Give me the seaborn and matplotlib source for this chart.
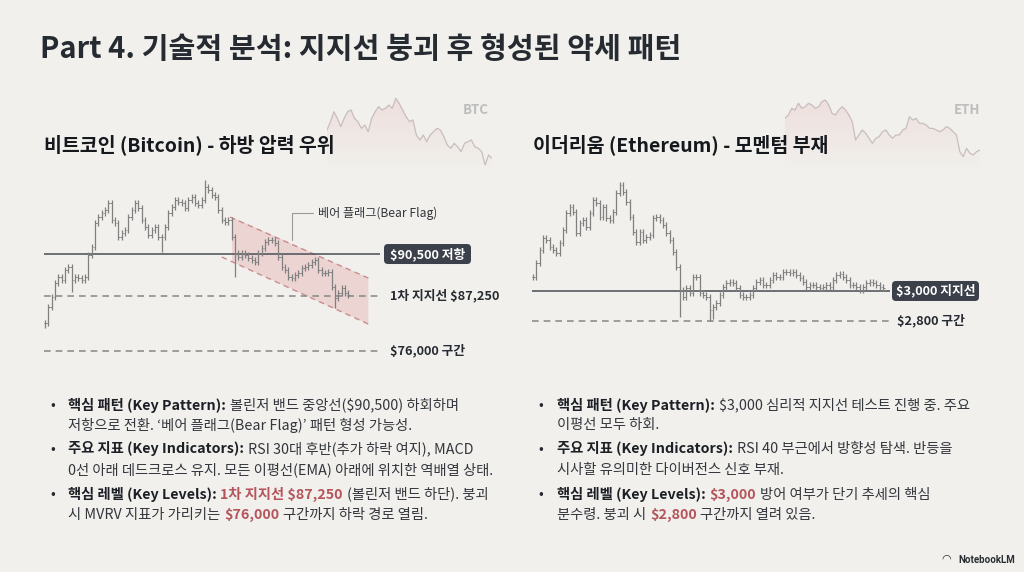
import numpy as np
import matplotlib
matplotlib.use("Agg")
import matplotlib.pyplot as plt
from matplotlib.patches import FancyBboxPatch, Polygon
import seaborn as sns

# ------------------------------------------------------------------ data
title = "Part 4. 기술적 분석: 지지선 붕괴 후 형성된 약세 패턴"
btc_title = "비트코인 (Bitcoin) - 하방 압력 우위"
eth_title = "이더리움 (Ethereum) - 모멘텀 부재"

btc_close = [
    85130, 86420, 87200, 88230, 88750, 88490, 89260, 89520, 88490, 88750,
    88620, 88490, 88750, 90420, 91070, 92870, 93390, 93650, 93910, 94420,
    93130, 92870, 91840, 92100, 92360, 93390, 93910, 94420, 94040, 93130,
    92620, 91970, 92360, 92620, 91840, 91840, 92620, 93650, 94160, 94680,
    94550, 94420, 94040, 94680, 94940, 94420, 94290, 94680, 95710, 95450,
    95070, 94940, 93910, 93130, 93000, 93130, 91840, 90550, 90290, 90550,
    90420, 90170, 90040, 89910, 90550, 90940, 91460, 91580, 91580, 91330,
    90290, 89520, 89260, 88750, 88620, 88880, 89000, 89390, 89520, 89650,
    89910, 90040, 89260, 89000, 89000, 89130, 87970, 87070, 87460, 87840,
    87460, 87330]
btc_wick_idx = [0, 8, 35, 48, 57, 87]
btc_wick_val = [84750, 87590, 90680, 96230, 88690, 86300]
btc_resistance = 90500
btc_support = 87250
btc_zone = 76000
btc_labels = ["$90,500 저항", "1차 지지선 $87,250", "$76,000 구간"]

flag_upper_x = [55.5, 97.0]
flag_upper = [93360, 88640]
flag_lower_x = [53.0, 97.0]
flag_lower = [90270, 85080]
flag_fill_x = [56.1, 97.0, 97.0, 56.1]
flag_fill_y = [93360, 88640, 85080, 89910]
flag_note = "베어 플래그(Bear Flag)"
flag_leader_x = [74.2, 74.2, 80.5]
flag_leader_y = [91580, 93670, 93670]

eth_close = [
    3096, 3184, 3273, 3351, 3340, 3296, 3273, 3251, 3318, 3407,
    3518, 3562, 3529, 3384, 3451, 3473, 3429, 3518, 3607, 3584,
    3496, 3562, 3484, 3473, 3529, 3651, 3707, 3662, 3596, 3496,
    3396, 3329, 3396, 3340, 3362, 3373, 3484, 3496, 3473, 3440,
    3384, 3340, 3262, 3162, 3007, 2962, 3018, 2984, 3096, 3096,
    2984, 2973, 2962, 2873, 2896, 2918, 2973, 3029, 3051, 3062,
    3051, 3018, 2973, 2962, 2962, 2973, 3018, 3062, 3073, 3040,
    3040, 3073, 3107, 3096, 3096, 3129, 3129, 3118, 3129, 3107,
    3084, 3062, 3029, 3040, 3040, 3029, 3018, 3029, 3040, 3029,
    3073, 3107, 3113, 3096, 3073, 3040, 3040, 3029, 3007, 3029,
    3051, 3062, 3051, 3040, 3029, 3018]
eth_wick_idx = [26, 44, 53, 54]
eth_wick_val = [3729, 2829, 2802, 2812]
eth_support = 3000
eth_zone = 2800
eth_labels = ["$3,000 지지선", "$2,800 구간"]

mini_btc = [115, 140, 170, 150, 125, 150, 170, 175, 150, 140, 120, 130, 110,
            150, 170, 185, 175, 180, 190, 180, 210, 195, 175, 155, 140, 145,
            100, 85, 100, 80, 100, 110, 120, 115, 95, 70, 60, 75, 65, 50, 75,
            80, 85, 65, 60, 50, 10, 40, 30]
mini_eth = [150, 160, 180, 175, 195, 180, 185, 195, 190, 180, 185, 200, 205,
            190, 165, 160, 175, 185, 175, 160, 140, 85, 100, 115, 105, 90, 75,
            90, 95, 110, 115, 100, 90, 100, 100, 115, 120, 155, 145, 150, 135,
            135, 130, 120, 120, 115, 110, 115, 125, 120, 110, 100, 50, 35, 60,
            45, 40, 50, 55]

btc_bullets = [
    [("핵심 패턴 (Key Pattern):", "b"), ("볼린저 밴드 중앙선($90,500) 하회하며", "n")],
    [("저항으로 전환. ‘베어 플래그(Bear Flag)’ 패턴 형성 가능성.", "n")],
    [("주요 지표 (Key Indicators):", "b"), ("RSI 30대 후반(추가 하락 여지), MACD", "n")],
    [("0선 아래 데드크로스 유지. 모든 이평선(EMA) 아래에 위치한 역배열 상태.", "n")],
    [("핵심 레벨 (Key Levels):", "b"), ("1차 지지선 $87,250", "r"), ("(볼린저 밴드 하단). 붕괴", "n")],
    [("시 MVRV 지표가 가리키는", "n"), ("$76,000", "r"), ("구간까지 하락 경로 열림.", "n")],
]
eth_bullets = [
    [("핵심 패턴 (Key Pattern):", "b"), ("$3,000 심리적 지지선 테스트 진행 중. 주요", "n")],
    [("이평선 모두 하회.", "n")],
    [("주요 지표 (Key Indicators):", "b"), ("RSI 40 부근에서 방향성 탐색. 반등을", "n")],
    [("시사할 유의미한 다이버전스 신호 부재.", "n")],
    [("핵심 레벨 (Key Levels):", "b"), ("$3,000", "r"), ("방어 여부가 단기 추세의 핵심", "n")],
    [("분수령. 붕괴 시", "n"), ("$2,800", "r"), ("구간까지 열려 있음.", "n")],
]

# ------------------------------------------------------------------ style
BG = "#F1F0EC"
DARK = "#262A31"
TEXT = "#33363C"
RED = "#B5545B"
BAR = "#808080"
BOX = "#3B404A"

sns.set_theme(style="white")
plt.rcParams["font.family"] = ["Noto Sans CJK KR", "DejaVu Sans"]
plt.rcParams["axes.unicode_minus"] = False

W, H = 1024, 572
fig = plt.figure(figsize=(W / 100, H / 100), dpi=100, facecolor=BG)


def add_ax(l, t, r, b, z):
    ax = fig.add_axes([l / W, 1 - b / H, (r - l) / W, (b - t) / H], zorder=z)
    ax.set_facecolor("none")
    ax.set_axis_off()
    return ax


bg = add_ax(0, 0, W, H, 3)
bg.set_xlim(0, W)
bg.set_ylim(H, 0)


def to_px(ax, x, y):
    d = ax.transData.transform((x, y))
    return bg.transData.inverted().transform(d)


# ------------------------------------------------------------------ mini watermark charts
def mini(ax, vals, label_x, label):
    x = np.arange(len(vals))
    ax.set_xlim(0, len(vals) - 1)
    ax.set_ylim(-5, 250)
    coll = ax.fill_between(x, vals, -5, color="none", lw=0)
    grad = np.zeros((100, 2, 4))
    grad[..., :3] = matplotlib.colors.to_rgb("#E6B9B9")
    grad[..., 3] = np.linspace(0.32, 0.0, 100)[:, None]
    im = ax.imshow(grad, extent=[0, len(vals) - 1, -5, 215], aspect="auto",
                   origin="upper", zorder=0)
    im.set_clip_path(coll.get_paths()[0], transform=ax.transData)
    sns.lineplot(x=x, y=vals, ax=ax, color="#C9BDBD", lw=0.9, zorder=1)
    ax.set_xlim(0, len(vals) - 1)
    ax.set_ylim(-5, 250)
    bg.text(label_x, 110, label, ha="center", va="center", fontsize=9.5,
            fontweight="bold", color="#BDBDBD")


mb = add_ax(327, 85, 492, 170, 0)
mini(mb, mini_btc, 476, "BTC")
me = add_ax(785, 85, 980, 170, 0)
mini(me, mini_eth, 967, "ETH")


# ------------------------------------------------------------------ bars
def draw_bars(ax, closes, wick, w_idx, w_val):
    c = np.asarray(closes, float)
    o = np.r_[c[0], c[:-1]]
    hi = np.maximum(o, c) + wick
    lo = np.minimum(o, c) - wick
    for i, v in zip(w_idx, w_val):
        lo[i] = min(lo[i], v)
        hi[i] = max(hi[i], v)
    x = np.arange(len(c))
    ax.vlines(x, lo, hi, color=BAR, lw=0.9, zorder=3)
    ax.hlines(o, x - 0.45, x, color=BAR, lw=0.7, zorder=3)
    ax.hlines(c, x, x + 0.45, color=BAR, lw=0.7, zorder=3)


DASH = (0, (4, 3))

# BTC chart -- piecewise price scale (the lower zone is drawn compressed)
P_pts = [0, 76000, 84000, 200000]
V_pts = [-474.6, -351.0, -338.0, 1160.7]


def fwd(p):
    return np.interp(p, P_pts, V_pts)


def inv(v):
    return np.interp(v, V_pts, P_pts)


ab = add_ax(44, 170, 380, 360, 1)
ab.set_yscale("function", functions=(fwd, inv))
ab.set_xlim(-0.3, 100.5)
ab.set_ylim(float(inv(-360)), float(inv(-170)))

ab.add_patch(Polygon(np.c_[flag_fill_x, flag_fill_y], closed=True,
                     fc="#EBCBCB", ec="none", alpha=0.75, zorder=1))
ab.plot(flag_upper_x, flag_upper, color="#C98C90", lw=1.0, ls=DASH, zorder=2)
ab.plot(flag_lower_x, flag_lower, color="#C98C90", lw=1.0, ls=DASH, zorder=2)
ab.axhline(btc_resistance, color="#555A61", lw=1.2, zorder=2)
ab.axhline(btc_support, color="#8E8E8E", lw=1.2, ls=DASH, zorder=2)
ab.axhline(btc_zone, color="#8E8E8E", lw=1.2, ls=DASH, zorder=2)
draw_bars(ab, btc_close, 230, btc_wick_idx, btc_wick_val)
ab.plot(flag_leader_x, flag_leader_y, color="#9A9A9A", lw=0.8, clip_on=False)
ab.text(82.0, flag_leader_y[-1], flag_note, fontsize=8.7, color=TEXT,
        va="center", ha="left")

# ETH chart
ae = add_ax(532, 170, 890, 340, 1)
ae.set_xlim(-0.3, 107.1)
ae.set_ylim(2673, 3807)
ae.axhline(eth_support, color="#555A61", lw=1.2, zorder=2)
ae.axhline(eth_zone, color="#8E8E8E", lw=1.2, ls=DASH, zorder=2)
draw_bars(ae, eth_close, 20, eth_wick_idx, eth_wick_val)


# ------------------------------------------------------------------ level labels
def box_label(ax, value, x0, x1, text):
    _, y = to_px(ax, 0, value)
    bg.add_patch(FancyBboxPatch((x0, y - 10), x1 - x0, 20,
                                boxstyle="round,pad=0,rounding_size=4",
                                fc=BOX, ec="none", zorder=2))
    bg.text((x0 + x1) / 2, y, text, ha="center", va="center", fontsize=9.2,
            fontweight="bold", color="white", zorder=3)


def plain_label(ax, value, x0, text):
    _, y = to_px(ax, 0, value)
    bg.text(x0, y, text, ha="left", va="center", fontsize=9.2,
            fontweight="bold", color=DARK)


box_label(ab, btc_resistance, 384, 471, btc_labels[0])
plain_label(ab, btc_support, 390, btc_labels[1])
plain_label(ab, btc_zone, 390, btc_labels[2])
box_label(ae, eth_support, 892, 979, eth_labels[0])
plain_label(ae, eth_zone, 897, eth_labels[1])

# ------------------------------------------------------------------ titles
bg.text(40, 49, title, fontsize=21, fontweight="bold", color=DARK,
        ha="left", va="center")
bg.text(44, 145, btc_title, fontsize=14, fontweight="bold", color="#15181D",
        ha="left", va="center")
bg.text(533, 145, eth_title, fontsize=14, fontweight="bold", color="#15181D",
        ha="left", va="center")

# ------------------------------------------------------------------ bullets
STY = {"b": ("bold", "#1C1F25"), "n": ("normal", TEXT), "r": ("bold", RED)}
LINE_Y = [405, 425, 449, 470, 494, 515]
FS = 10.3


def rich(x, y, pieces):
    prev = None
    for txt, s in pieces:
        wt, col = STY[s]
        if prev is None:
            t = bg.text(x, y, txt, ha="left", va="center", fontsize=FS,
                        fontweight=wt, color=col)
        else:
            t = bg.annotate(txt, xy=(1, 0), xycoords=prev, xytext=(2.7, 0),
                            textcoords="offset points", ha="left", va="bottom",
                            fontsize=FS, fontweight=wt, color=col)
        prev = t


def bullets(bx, tx, lines):
    for i, pieces in enumerate(lines):
        if i % 2 == 0:
            bg.text(bx, LINE_Y[i], "•", ha="center", va="center", fontsize=10,
                    color=DARK)
        rich(tx, LINE_Y[i], pieces)


bullets(53, 68, btc_bullets)
bullets(541, 557, eth_bullets)

# ------------------------------------------------------------------ footer
bg.text(1015, 560, "NotebookLM", ha="right", va="center", fontsize=7,
        fontweight="bold", color="#2A2D33", family=["Roboto", "DejaVu Sans"])
bg.text(951, 559, "◠", ha="right", va="center", fontsize=8, color="#2A2D33",
        family=["DejaVu Sans"])

fig.savefig("out.png", dpi=100, facecolor=BG)
